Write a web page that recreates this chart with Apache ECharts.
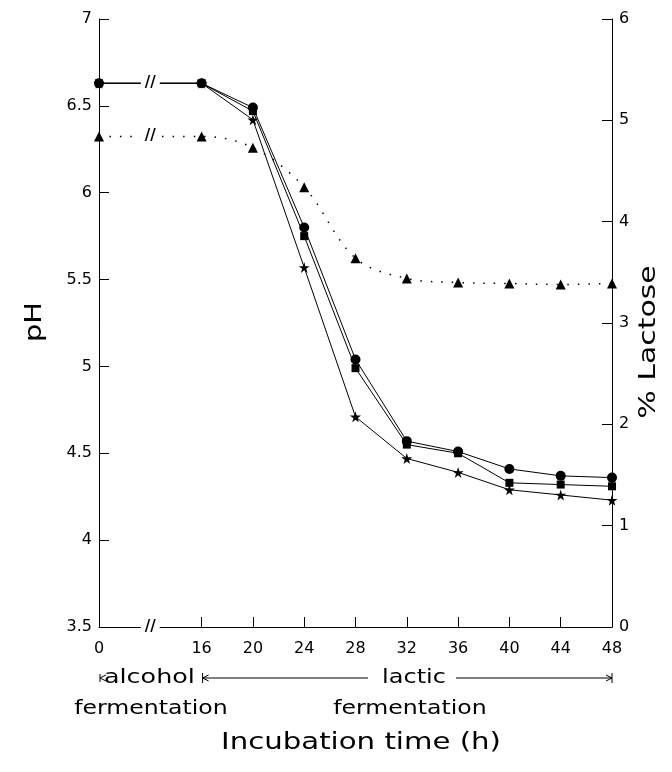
<!DOCTYPE html>
<html>
<head>
<meta charset="utf-8">
<script src="https://cdn.jsdelivr.net/npm/echarts@6/dist/echarts.min.js"></script>
<style>
html,body{margin:0;padding:0;background:#fff;}
#chart{width:672px;height:772px;}
</style>
</head>
<body>
<div id="chart"></div>
<script>
// Tick labels of the broken time axis ('' marks the axis break between 0 and 16 h)
var timeLabels = ['0', '', '16', '20', '24', '28', '32', '36', '40', '44', '48'];
// Sampled hours
var hours = ['0', '16', '20', '24', '28', '32', '36', '40', '44', '48'];
// pH series (left axis)
var phCircle = [6.63, 6.63, 6.49, 5.80, 5.04, 4.57, 4.51, 4.41, 4.37, 4.36];
var phSquare = [6.63, 6.63, 6.47, 5.75, 4.99, 4.55, 4.50, 4.33, 4.32, 4.31];
var phStar   = [6.63, 6.63, 6.42, 5.57, 4.71, 4.47, 4.39, 4.29, 4.26, 4.23];
// % Lactose series (right axis)
var lactose  = [4.84, 4.84, 4.73, 4.34, 3.64, 3.44, 3.40, 3.39, 3.38, 3.39];

var FONT = 'DejaVu Sans';
var STAR = 'path://M50,0 L61,35 L98,35 L68,57 L79,91 L50,70 L21,91 L32,57 L2,35 L39,35 Z';

function toAxis(vals) {
  // place each value on its hour label (break slot stays empty)
  var out = timeLabels.map(function () { return null; });
  hours.forEach(function (h, i) { out[timeLabels.indexOf(h)] = vals[i]; });
  return out;
}

var breakLabel = {
  show: true, formatter: '//', color: '#000', fontSize: 15, fontWeight: 'bold',
  fontFamily: FONT, backgroundColor: '#fff', padding: [0, 4], position: 'inside'
};

function lineSeries(vals, symbol, size, extra) {
  var s = {
    type: 'line', data: toAxis(vals), connectNulls: true,
    symbol: symbol, symbolSize: size, showSymbol: true,
    itemStyle: { color: '#000' },
    lineStyle: { color: '#000', width: 1 },
    z: 3
  };
  for (var k in extra) s[k] = extra[k];
  return s;
}

var chart = echarts.init(document.getElementById('chart'));
var option = {
  animation: false,
  backgroundColor: '#fff',
  grid: { left: 99, right: 60, top: 19, bottom: 145 },
  xAxis: {
    type: 'category', data: timeLabels, boundaryGap: false,
    axisLine: { lineStyle: { color: '#000', width: 1 } },
    axisTick: { inside: true, length: 10, lineStyle: { color: '#000' },
      interval: function (i) { return i > 1; } },
    axisLabel: { color: '#000', fontSize: 16, fontFamily: FONT, margin: 14, interval: 0 },
    splitLine: { show: false }
  },
  yAxis: [{
    type: 'value', min: 3.5, max: 7, interval: 0.5,
    axisLine: { show: true, lineStyle: { color: '#000' } },
    axisTick: { show: true, inside: true, length: 10, lineStyle: { color: '#000' } },
    axisLabel: { color: '#000', fontSize: 16, fontFamily: FONT, margin: 7 },
    splitLine: { show: false }
  }, {
    type: 'value', min: 0, max: 6, interval: 1, position: 'right',
    axisLine: { show: true, lineStyle: { color: '#000' } },
    axisTick: { show: true, inside: true, length: 10, lineStyle: { color: '#000' } },
    axisLabel: { color: '#000', fontSize: 16, fontFamily: FONT, margin: 7 },
    splitLine: { show: false }
  }],
  series: [
    lineSeries(phStar, STAR, 11, {}),
    lineSeries(phSquare, 'rect', 8, {}),
    lineSeries(phCircle, 'circle', 10, {
      markPoint: {
        symbol: 'circle', symbolSize: 0, silent: true,
        label: breakLabel,
        data: [{ coord: [1, phCircle[0]] }, { coord: [1, 3.5] }]
      }
    }),
    lineSeries(lactose, 'triangle', 10, {
      yAxisIndex: 1, smooth: 0.35,
      lineStyle: { color: '#000', width: 1.5, type: [1.5, 9] },
      markPoint: {
        symbol: 'circle', symbolSize: 0, silent: true,
        label: breakLabel,
        data: [{ coord: [1, lactose[0]] }]
      }
    })
  ]
};
chart.setOption(option);

// annotations placed from the axis scale
var x0 = chart.convertToPixel({ xAxisIndex: 0 }, 0);
var x16 = chart.convertToPixel({ xAxisIndex: 0 }, 2);
var x48 = chart.convertToPixel({ xAxisIndex: 0 }, 10);
var rowA = 678, rowB = 709;
var txt = function (x, y, s, size, align, rot, sx) {
  return { type: 'text', x: x, y: y, rotation: rot || 0, scaleX: sx || 1,
    style: { text: s, font: size + 'px "' + FONT + '"', fill: '#000',
      textAlign: align || 'center', textVerticalAlign: 'middle' } };
};
var ln = function (x1, y1, x2, y2) {
  return { type: 'line', shape: { x1: x1, y1: y1, x2: x2, y2: y2 },
    style: { stroke: '#000', lineWidth: 1 } };
};
var headL = function (x, y) {
  return { type: 'polyline', shape: { points: [[x + 6, y - 3], [x, y], [x + 6, y + 3]] },
    style: { stroke: '#000', lineWidth: 1, fill: null } };
};
var headR = function (x, y) {
  return { type: 'polyline', shape: { points: [[x - 6, y - 3], [x, y], [x - 6, y + 3]] },
    style: { stroke: '#000', lineWidth: 1, fill: null } };
};
chart.setOption({
  graphic: [
    txt(35, 322, 'pH', 23, 'center', Math.PI / 2, 1.25),
    txt(649, 342, '% Lactose', 23, 'center', Math.PI / 2, 1.3),
    // alcohol fermentation
    ln(x0 + 1, rowA - 4, x0 + 1, rowA + 4), headL(x0 + 1, rowA),
    txt(x0 + 5, rowA, 'alcohol', 20, 'left', 0, 1.27),
    txt(151, rowB, 'fermentation', 20, 'center', 0, 1.18),
    // lactic fermentation
    ln(x16 + 1, rowA - 5, x16 + 1, rowA + 5), headL(x16 + 1, rowA), ln(x16 + 1, rowA, 368, rowA),
    txt(414, rowA, 'lactic', 20, 'center', 0, 1.2),
    ln(456, rowA, x48, rowA), headR(x48, rowA), ln(x48, rowA - 5, x48, rowA + 5),
    txt(410, rowB, 'fermentation', 20, 'center', 0, 1.18),
    txt(361, 743, 'Incubation time (h)', 23, 'center', 0, 1.27)
  ]
});
</script>
</body>
</html>
